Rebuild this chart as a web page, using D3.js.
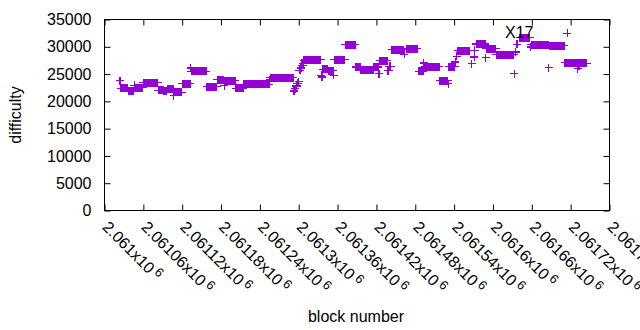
<!DOCTYPE html>
<html>
<head>
<meta charset="utf-8">
<script src="https://cdn.jsdelivr.net/npm/d3@7"></script>
<style>
  body { margin: 0; background: #fff; }
  text { font-family: "Liberation Sans", Arial, sans-serif; font-size: 16px; fill: #000; }
</style>
</head>
<body>
<svg id="chart" width="640" height="330"></svg>
<script>
// BLOCK RANGE (block numbers are base + offset)
var baseBlock = 2061000;

// RUNS OF EQUAL DIFFICULTY: first block offset, number of blocks, difficulty
var runStart = [24, 25, 37, 46, 47, 60, 83, 92, 97, 107, 108, 120, 133, 134, 158, 174, 185, 186, 203, 215,
    255, 256, 292, 294, 296, 298, 300, 301, 303, 305, 307, 308, 309, 335, 336, 337, 346, 354, 355, 372,
    388, 396, 416, 424, 425, 438, 440, 444, 463, 466, 485, 493, 495, 518, 531, 532, 542, 544, 546, 567,
    571, 572, 574, 589, 590, 605, 633, 635, 637, 641, 658, 659, 686, 687, 711, 715, 716, 731, 732, 733, 734];
var runLength = [1, 12, 9, 1, 13, 23, 9, 5, 10, 1, 12, 13, 1, 24, 16, 11, 1, 17, 12, 40,
    1, 36, 2, 2, 2, 2, 1, 2, 2, 2, 1, 1, 26, 1, 1, 9, 8, 1, 17, 16,
    8, 20, 8, 1, 13, 2, 3, 19, 1, 18, 8, 1, 23, 13, 1, 10, 1, 1, 19, 1,
    1, 1, 15, 1, 15, 28, 1, 1, 1, 17, 1, 27, 1, 24, 4, 1, 15, 1, 1, 1, 12];
var runDifficulty = [23750, 22370, 21810, 22970, 22500, 23450, 22060, 21810, 22180, 21020, 21630, 23270, 26130, 25520, 22660, 23940, 22840, 23760, 22370, 23090,
    24000, 24370, 21900, 22300, 22800, 23300, 23570, 25700, 26100, 26600, 26900, 27500, 27650, 24800, 24480, 25880, 25650, 24790, 27600, 30380,
    26300, 25700, 26300, 25100, 27460, 25600, 26430, 29470, 28620, 29620, 25520, 27030, 26380, 23760, 23270, 26380, 27210, 28250, 29280, 26920,
    28130, 29350, 30500, 28000, 29650, 28530, 25100, 29040, 30440, 31660, 29950, 30380, 26190, 30200, 27100, 32500, 27100, 26010, 27000, 26400, 26980];

// TICKS
var xTicks = [2061000, 2061060, 2061120, 2061180, 2061240, 2061300, 2061360,
    2061420, 2061480, 2061540, 2061600, 2061660, 2061720, 2061780];
var xTickLabels = ["2.061", "2.06106", "2.06112", "2.06118", "2.06124", "2.0613", "2.06136",
    "2.06142", "2.06148", "2.06154", "2.0616", "2.06166", "2.06172", "2.06178"];
var yTicks = [0, 5000, 10000, 15000, 20000, 25000, 30000, 35000];

// LABEL
var noteText = "X17";

// EXPAND RUNS INTO ONE POINT PER BLOCK
var points = [];
for (var r = 0; r < runStart.length; r++) {
    for (var k = 0; k < runLength[r]; k++) {
        points.push({ block: baseBlock + runStart[r] + k, difficulty: runDifficulty[r] });
    }
}

var svg = d3.select('#chart');
var plotL = 104.5, plotR = 609.5, plotT = 19.5, plotB = 210.5;
var color = '#9400d3';

var x = d3.scaleLinear().domain([2061000, 2061780]).range([plotL, plotR]);
var y = d3.scaleLinear().domain([0, 35000]).range([plotB, plotT]);

// AXES (ticks pointing inward, mirrored)
svg.append('g').attr('transform', 'translate(0,' + plotB + ')')
    .call(d3.axisBottom(x).tickValues(xTicks).tickSize(-6).tickFormat(''));
svg.append('g').attr('transform', 'translate(0,' + plotT + ')')
    .call(d3.axisTop(x).tickValues(xTicks).tickSize(-6).tickFormat(''));
svg.append('g').attr('transform', 'translate(' + plotL + ',0)')
    .call(d3.axisLeft(y).tickValues(yTicks).tickSize(-6).tickPadding(13).tickFormat(d3.format('d')));
svg.append('g').attr('transform', 'translate(' + plotR + ',0)')
    .call(d3.axisRight(y).tickValues(yTicks).tickSize(-6).tickFormat(''));
svg.selectAll('.domain').remove();
svg.selectAll('.tick line').attr('stroke', '#000');
svg.selectAll('.tick text').style('font-family', '"Liberation Sans", Arial, sans-serif')
    .style('font-size', '16px').attr('fill', '#000');

// BORDER
svg.append('rect')
    .attr('x', plotL).attr('y', plotT)
    .attr('width', plotR - plotL).attr('height', plotB - plotT)
    .attr('fill', 'none').attr('stroke', '#000').attr('stroke-width', 1);

// ROTATED X TICK LABELS
var lab = svg.append('g').selectAll('text')
    .data(xTicks)
    .enter().append('text')
    .attr('transform', function(d) { return 'translate(' + (x(d) + 1) + ',224) rotate(45)'; })
    .attr('dy', '0.35em');
lab.append('tspan').text(function(d, i) { return xTickLabels[i] + 'x10'; });
lab.append('tspan').attr('dx', 3).attr('dy', -5).style('font-size', '12.8px').text('6');

// POINTS
svg.append('g').attr('shape-rendering', 'crispEdges').selectAll('path')
    .data(points)
    .enter().append('path')
    .attr('transform', function(d) { return 'translate(' + x(d.block) + ',' + y(d.difficulty) + ')'; })
    .attr('d', 'M-4,0H4M0,-4V4')
    .attr('stroke', color)
    .attr('stroke-width', 1.2)
    .attr('fill', 'none');

// NOTE
svg.append('text').attr('x', 505).attr('y', 38).text(noteText);

// AXIS TITLES
svg.append('text').attr('x', 356).attr('y', 321.5).attr('text-anchor', 'middle').text('block number');
svg.append('text').attr('transform', 'translate(21,115) rotate(-90)').attr('text-anchor', 'middle').text('difficulty');
</script>
</body>
</html>
